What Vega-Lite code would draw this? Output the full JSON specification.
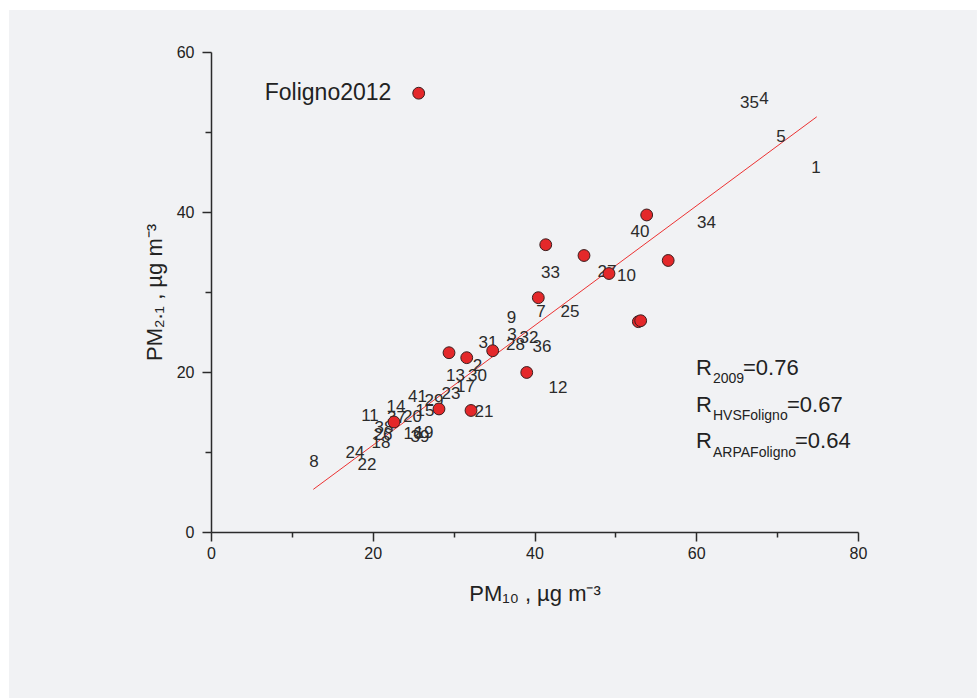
{
  "$schema": "https://vega.github.io/schema/vega-lite/v6.json",
  "width": 647,
  "height": 480,
  "autosize": {"type": "none"},
  "padding": {"left": 211, "top": 52, "right": 119, "bottom": 166},
  "background": "#ffffff",
  "config": {"view": {"stroke": null}, "font": "Liberation Sans"},
  "datasets": {
    "panel": [{"x": -24.98, "x2": 94.7, "y": 65.25, "y2": -20.75}],
    "fit": [{"x": 12.65, "y": 5.33}, {"x": 74.9, "y": 51.9}],
    "labels": [
      {"n": "1", "x": 74.81, "y": 45.5},
      {"n": "4", "x": 68.38, "y": 54.13},
      {"n": "35", "x": 66.58, "y": 53.63},
      {"n": "5", "x": 70.48, "y": 49.41},
      {"n": "40", "x": 53.05, "y": 37.54},
      {"n": "34", "x": 61.27, "y": 38.63},
      {"n": "33", "x": 41.98, "y": 32.34},
      {"n": "27", "x": 48.96, "y": 32.54},
      {"n": "10", "x": 51.38, "y": 32.0},
      {"n": "7", "x": 40.8, "y": 27.54},
      {"n": "25", "x": 44.39, "y": 27.54},
      {"n": "9", "x": 37.16, "y": 26.71},
      {"n": "3", "x": 37.22, "y": 24.63},
      {"n": "32", "x": 39.32, "y": 24.31},
      {"n": "28", "x": 37.65, "y": 23.38},
      {"n": "36", "x": 40.93, "y": 23.16},
      {"n": "31", "x": 34.25, "y": 23.63},
      {"n": "2", "x": 32.95, "y": 20.75},
      {"n": "13", "x": 30.23, "y": 19.5},
      {"n": "30", "x": 32.95, "y": 19.5},
      {"n": "17", "x": 31.47, "y": 18.16},
      {"n": "12", "x": 42.91, "y": 17.96},
      {"n": "23", "x": 29.68, "y": 17.25},
      {"n": "41", "x": 25.53, "y": 16.91},
      {"n": "29", "x": 27.57, "y": 16.41},
      {"n": "15", "x": 26.46, "y": 15.16},
      {"n": "14", "x": 22.87, "y": 15.66},
      {"n": "11", "x": 19.66, "y": 14.5},
      {"n": "37", "x": 22.94, "y": 14.25},
      {"n": "20", "x": 24.92, "y": 14.41},
      {"n": "38", "x": 21.39, "y": 13.0},
      {"n": "26", "x": 21.27, "y": 12.13},
      {"n": "18", "x": 21.02, "y": 11.13},
      {"n": "16", "x": 24.98, "y": 12.25},
      {"n": "19", "x": 26.34, "y": 12.38},
      {"n": "39", "x": 25.84, "y": 11.88},
      {"n": "24", "x": 17.81, "y": 9.91},
      {"n": "22", "x": 19.29, "y": 8.38},
      {"n": "8", "x": 12.74, "y": 8.79},
      {"n": "21", "x": 33.76, "y": 15.04}
    ],
    "foligno": [
      {"x": 29.43, "y": 22.41},
      {"x": 31.62, "y": 21.79},
      {"x": 34.83, "y": 22.66},
      {"x": 41.39, "y": 35.91},
      {"x": 46.12, "y": 34.56},
      {"x": 40.47, "y": 29.29},
      {"x": 49.21, "y": 32.31},
      {"x": 53.87, "y": 39.63},
      {"x": 56.53, "y": 33.94},
      {"x": 52.84, "y": 26.29},
      {"x": 53.13, "y": 26.41},
      {"x": 39.04, "y": 19.94},
      {"x": 32.15, "y": 15.19},
      {"x": 28.19, "y": 15.38},
      {"x": 22.63, "y": 13.75}
    ],
    "legendText": [{"label": "Foligno2012", "x": 22.3, "y": 54.9}],
    "legendPoint": [{"x": 25.68, "y": 54.85}],
    "rmain": [
      {"t": "R", "x": 59.97, "y": 19.63},
      {"t": "=0.76", "x": 65.78, "y": 19.63},
      {"t": "R", "x": 59.97, "y": 15.0},
      {"t": "=0.67", "x": 71.22, "y": 15.0},
      {"t": "R", "x": 59.97, "y": 10.5},
      {"t": "=0.64", "x": 72.21, "y": 10.5}
    ],
    "rsub": [
      {"t": "2009", "x": 62.07, "y": 18.63},
      {"t": "HVSFoligno", "x": 62.07, "y": 14.0},
      {"t": "ARPAFoligno", "x": 62.07, "y": 9.38}
    ]
  },
  "encoding": {
    "x": {
      "field": "x", "type": "quantitative",
      "scale": {"domain": [0, 80], "nice": false, "zero": false},
      "axis": {
        "zindex": 2,
        "title": "PM₁₀  , µg m⁻³",
        "values": [0, 10, 20, 30, 40, 50, 60, 70, 80],
        "labelExpr": "datum.value % 20 === 0 ? datum.label : ''",
        "tickSize": {"condition": {"test": "datum.value % 20 === 0", "value": 9}, "value": 5},
        "grid": false,
        "domainColor": "#2b2b2b", "domainWidth": 1.5,
        "tickColor": "#2b2b2b", "tickWidth": 1.5,
        "labelFont": "Liberation Sans", "labelFontSize": 16, "labelColor": "#222222", "labelPadding": 4,
        "labelFlush": false, "labelOverlap": false,
        "titleFont": "Liberation Sans", "titleFontSize": 22, "titleFontWeight": "normal", "titleColor": "#222222", "titlePadding": 22
      }
    },
    "y": {
      "field": "y", "type": "quantitative",
      "scale": {"domain": [0, 60], "nice": false, "zero": false},
      "axis": {
        "zindex": 2,
        "title": "PM₂.₁  , µg m⁻³",
        "values": [0, 10, 20, 30, 40, 50, 60],
        "labelExpr": "datum.value % 20 === 0 ? datum.label : ''",
        "tickSize": {"condition": {"test": "datum.value % 20 === 0", "value": 9}, "value": 6},
        "grid": false,
        "domainColor": "#2b2b2b", "domainWidth": 1.5,
        "tickColor": "#2b2b2b", "tickWidth": 1.5,
        "labelFont": "Liberation Sans", "labelFontSize": 16, "labelColor": "#222222", "labelPadding": 8,
        "labelFlush": false, "labelOverlap": false,
        "titleFont": "Liberation Sans", "titleFontSize": 22, "titleFontWeight": "normal", "titleColor": "#222222", "titlePadding": 10
      }
    }
  },
  "layer": [
    {
      "data": {"name": "panel"},
      "mark": {"type": "rect", "color": "#f1f2f4"},
      "encoding": {
        "x2": {"field": "x2"},
        "y2": {"field": "y2"}
      }
    },
    {
      "data": {"name": "fit"},
      "mark": {"type": "line", "color": "#ec3232", "strokeWidth": 1}
    },
    {
      "data": {"name": "labels"},
      "mark": {"type": "text", "fontSize": 17, "align": "center", "baseline": "middle", "color": "#2b2b2b", "font": "Liberation Sans"},
      "encoding": {"text": {"field": "n"}}
    },
    {
      "data": {"name": "foligno"},
      "mark": {"type": "point", "shape": "circle", "filled": true, "size": 140, "fill": "#e4282a", "stroke": "#3a1f1f", "strokeWidth": 1, "opacity": 1}
    },
    {
      "data": {"name": "legendText"},
      "mark": {"type": "text", "fontSize": 23, "align": "right", "baseline": "middle", "color": "#222222", "font": "Liberation Sans"},
      "encoding": {"text": {"field": "label"}}
    },
    {
      "data": {"name": "legendPoint"},
      "mark": {"type": "point", "shape": "circle", "filled": true, "size": 140, "fill": "#e4282a", "stroke": "#3a1f1f", "strokeWidth": 1, "opacity": 1}
    },
    {
      "data": {"name": "rmain"},
      "mark": {"type": "text", "fontSize": 22, "align": "left", "baseline": "alphabetic", "color": "#222222", "font": "Liberation Sans"},
      "encoding": {"text": {"field": "t"}}
    },
    {
      "data": {"name": "rsub"},
      "mark": {"type": "text", "fontSize": 14, "align": "left", "baseline": "alphabetic", "color": "#222222", "font": "Liberation Sans"},
      "encoding": {"text": {"field": "t"}}
    }
  ]
}
